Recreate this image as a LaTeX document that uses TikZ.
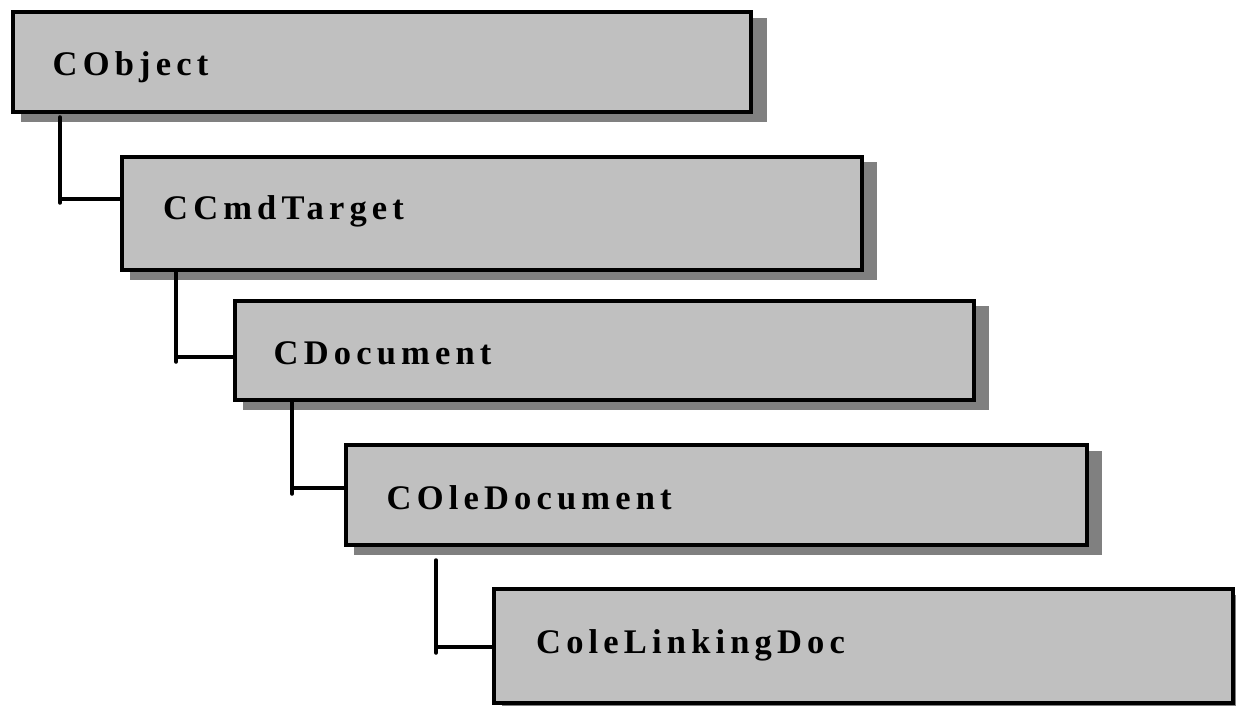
\documentclass[tikz,border=0pt]{standalone}
\usepackage{fontspec}
\usetikzlibrary{backgrounds}
\setmainfont{Liberation Serif}
\newfontfamily\classfont[LetterSpace=15]{Liberation Serif}
\definecolor{boxfill}{HTML}{C0C0C0}
\definecolor{boxshade}{HTML}{808080}
\tikzset{
  classbox/.style={draw=black, line width=4pt, fill=boxfill, rectangle,
    inner sep=0pt, outer sep=0pt, anchor=north west},
  classname/.style={anchor=base west, inner sep=0pt,
    font=\classfont\bfseries\fontsize{34.5}{40}\selectfont},
  link/.style={draw=black, line width=3.5pt, line cap=round},
}
% paints the offset shade behind a box
\newcommand{\shadebox}[1]{%
  \fill[boxshade] ([xshift=8pt,yshift=-5.5pt]#1.north west)
    rectangle ([xshift=15.5pt,yshift=-10pt]#1.south east);}
\begin{document}
\begin{tikzpicture}[x=1pt,y=-1pt]
\useasboundingbox (0,0) rectangle (1236,706);
\clip (0,0) rectangle (1236,706);

% class boxes
\node[classbox, minimum width=738.5pt, minimum height=100pt]   (b1) at (12.5,12.5) {};
\node[classbox, minimum width=739.5pt, minimum height=113.5pt] (b2) at (122,156.5) {};
\node[classbox, minimum width=739pt,   minimum height=99.5pt]  (b3) at (234.5,300.5) {};
\node[classbox, minimum width=741pt,   minimum height=99.5pt]  (b4) at (345.5,445) {};
\node[classbox, minimum width=738.5pt, minimum height=113.5pt] (b5) at (494,589) {};

% shades behind the boxes
\begin{scope}[on background layer]
\shadebox{b1}\shadebox{b2}\shadebox{b3}\shadebox{b4}\shadebox{b5}
\end{scope}

% class names
\node[classname] (t1) at ([xshift=40pt,yshift=-63pt]b1.north west) {CObject};
\node[classname] (t2) at ([xshift=41pt,yshift=-63pt]b2.north west) {CCmdTarget};
\node[classname] (t3) at ([xshift=39pt,yshift=-64pt]b3.north west) {CDocument};
\node[classname] (t4) at ([xshift=41pt,yshift=-64pt]b4.north west) {COleDocument};
\node[classname] (t5) at ([xshift=42pt,yshift=-64pt]b5.north west) {ColeLinkingDoc};

% inheritance connectors
\coordinate (k1top) at (60,117);  \coordinate (k1end) at (60,203);  \coordinate (k1) at (60,199);
\coordinate (k2top) at (176,271); \coordinate (k2end) at (176,362); \coordinate (k2) at (176,357);
\coordinate (k3top) at (292,401); \coordinate (k3end) at (292,494); \coordinate (k3) at (292,488);
\coordinate (k4top) at (436,560); \coordinate (k4end) at (436,653); \coordinate (k4) at (436,647);
\draw[link] (k1top) -- (k1end);  \draw[link] (k1) -- (k1 -| b2.west);
\draw[link] (k2top) -- (k2end);  \draw[link] (k2) -- (k2 -| b3.west);
\draw[link] (k3top) -- (k3end);  \draw[link] (k3) -- (k3 -| b4.west);
\draw[link] (k4top) -- (k4end);  \draw[link] (k4) -- (k4 -| b5.west);
\end{tikzpicture}
\end{document}
